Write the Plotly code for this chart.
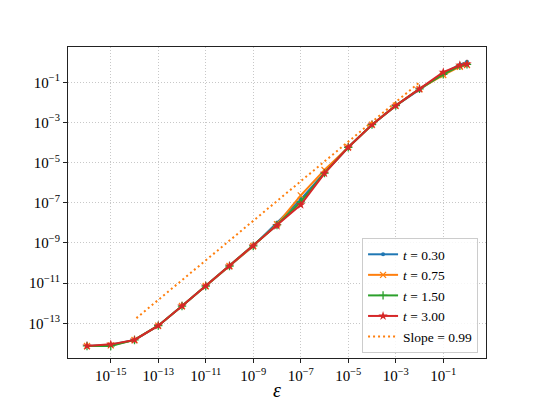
import plotly.graph_objects as go

eps = [1e-16, 1e-15, 1e-14, 1e-13, 1e-12, 1e-11, 1e-10, 1e-9, 1e-8, 1e-7,
       1e-6, 1e-5, 1e-4, 1e-3, 1e-2, 1e-1, 0.5, 1.0]

err_t030 = [7.4e-15, 8.5e-15, 1.48e-14, 7.6e-14, 7.2e-13, 7.2e-12, 7.1e-11, 7.1e-10,
            1.02e-8, 1.48e-7, 3.2e-6, 5.8e-5, 7.8e-4, 6.9e-3, 4.3e-2, 0.28, 0.76, 1.05]
err_t075 = [7.4e-15, 7.9e-15, 1.48e-14, 7.6e-14, 7.2e-13, 7.2e-12, 7.1e-11, 7.1e-10,
            8.5e-9, 2.34e-7, 4.3e-6, 5.8e-5, 7.8e-4, 6.9e-3, 4.7e-2, 0.23, 0.60, 0.72]
err_t150 = [7.4e-15, 7.4e-15, 1.48e-14, 7.6e-14, 7.2e-13, 7.2e-12, 7.1e-11, 7.1e-10,
            7.9e-9, 1.12e-7, 3.0e-6, 5.8e-5, 7.8e-4, 6.9e-3, 4.7e-2, 0.25, 0.66, 0.79]
err_t300 = [7.4e-15, 8.9e-15, 1.48e-14, 7.6e-14, 7.2e-13, 7.2e-12, 7.1e-11, 7.1e-10,
            7.2e-9, 7.9e-8, 2.95e-6, 5.8e-5, 7.8e-4, 6.9e-3, 4.7e-2, 0.32, 0.71, 0.81]

slope_x = [1.2e-14, 1e-2]
slope_y = [1.8e-13, 1.0e-1]

series = [
    ("<i>t</i> = 0.30", err_t030, "#1f77b4", "circle", 4, 0),
    ("<i>t</i> = 0.75", err_t075, "#ff7f0e", "x-thin", 6, 1.3),
    ("<i>t</i> = 1.50", err_t150, "#2ca02c", "cross-thin", 6, 1.3),
    ("<i>t</i> = 3.00", err_t300, "#d62728", "star", 7, 0),
]

FONT = "Liberation Serif"

fig = go.Figure()
for name, ys, col, sym, sz, lw in series:
    fig.add_trace(go.Scatter(
        x=eps, y=ys, mode="lines+markers", name=name,
        line=dict(color=col, width=2),
        marker=dict(symbol=sym, size=sz, color=col, line=dict(color=col, width=lw)),
    ))
fig.add_trace(go.Scatter(
    x=slope_x, y=slope_y, mode="lines", name="Slope = 0.99",
    line=dict(color="#ff7f0e", width=2, dash="2px,3px"),
))

xt = [1e-15, 1e-13, 1e-11, 1e-9, 1e-7, 1e-5, 1e-3, 1e-1]
xtt = ["10<sup>−15</sup>", "10<sup>−13</sup>", "10<sup>−11</sup>", "10<sup>−9</sup>",
       "10<sup>−7</sup>", "10<sup>−5</sup>", "10<sup>−3</sup>", "10<sup>−1</sup>"]
yt = [1e-13, 1e-11, 1e-9, 1e-7, 1e-5, 1e-3, 1e-1]
ytt = ["10<sup>−13</sup>", "10<sup>−11</sup>", "10<sup>−9</sup>", "10<sup>−7</sup>",
       "10<sup>−5</sup>", "10<sup>−3</sup>", "10<sup>−1</sup>"]

axis_common = dict(
    type="log", showline=True, linecolor="#222222", linewidth=1, mirror=True,
    showgrid=True, gridcolor="#c8c8c8", griddash="1px,2px", gridwidth=1,
    ticks="outside", ticklen=4, tickcolor="#222222", zeroline=False, automargin=False,
    tickfont=dict(family=FONT, size=15, color="black"),
)

fig.update_xaxes(**axis_common, range=[-16.8, 0.8], tickvals=xt, ticktext=xtt)
fig.update_yaxes(**axis_common, range=[-14.73, 0.76], tickvals=yt, ticktext=ytt)

fig.add_annotation(text="<i>ε</i>", xref="paper", yref="paper", x=0.5, y=-0.103,
                   xanchor="center", yanchor="middle", showarrow=False,
                   font=dict(family=FONT, size=20, color="black"))

fig.update_layout(
    width=540, height=405,
    margin=dict(l=60, r=62, t=39, b=55),
    paper_bgcolor="white", plot_bgcolor="white",
    font=dict(family=FONT, size=14, color="black"),
    legend=dict(x=0.981, y=0.016, xanchor="right", yanchor="bottom",
                bgcolor="rgba(255,255,255,0.85)", bordercolor="#cccccc", borderwidth=1,
                font=dict(family=FONT, size=13.5), tracegroupgap=0, itemwidth=30),
    showlegend=True,
)

fig.write_html("out.html")
